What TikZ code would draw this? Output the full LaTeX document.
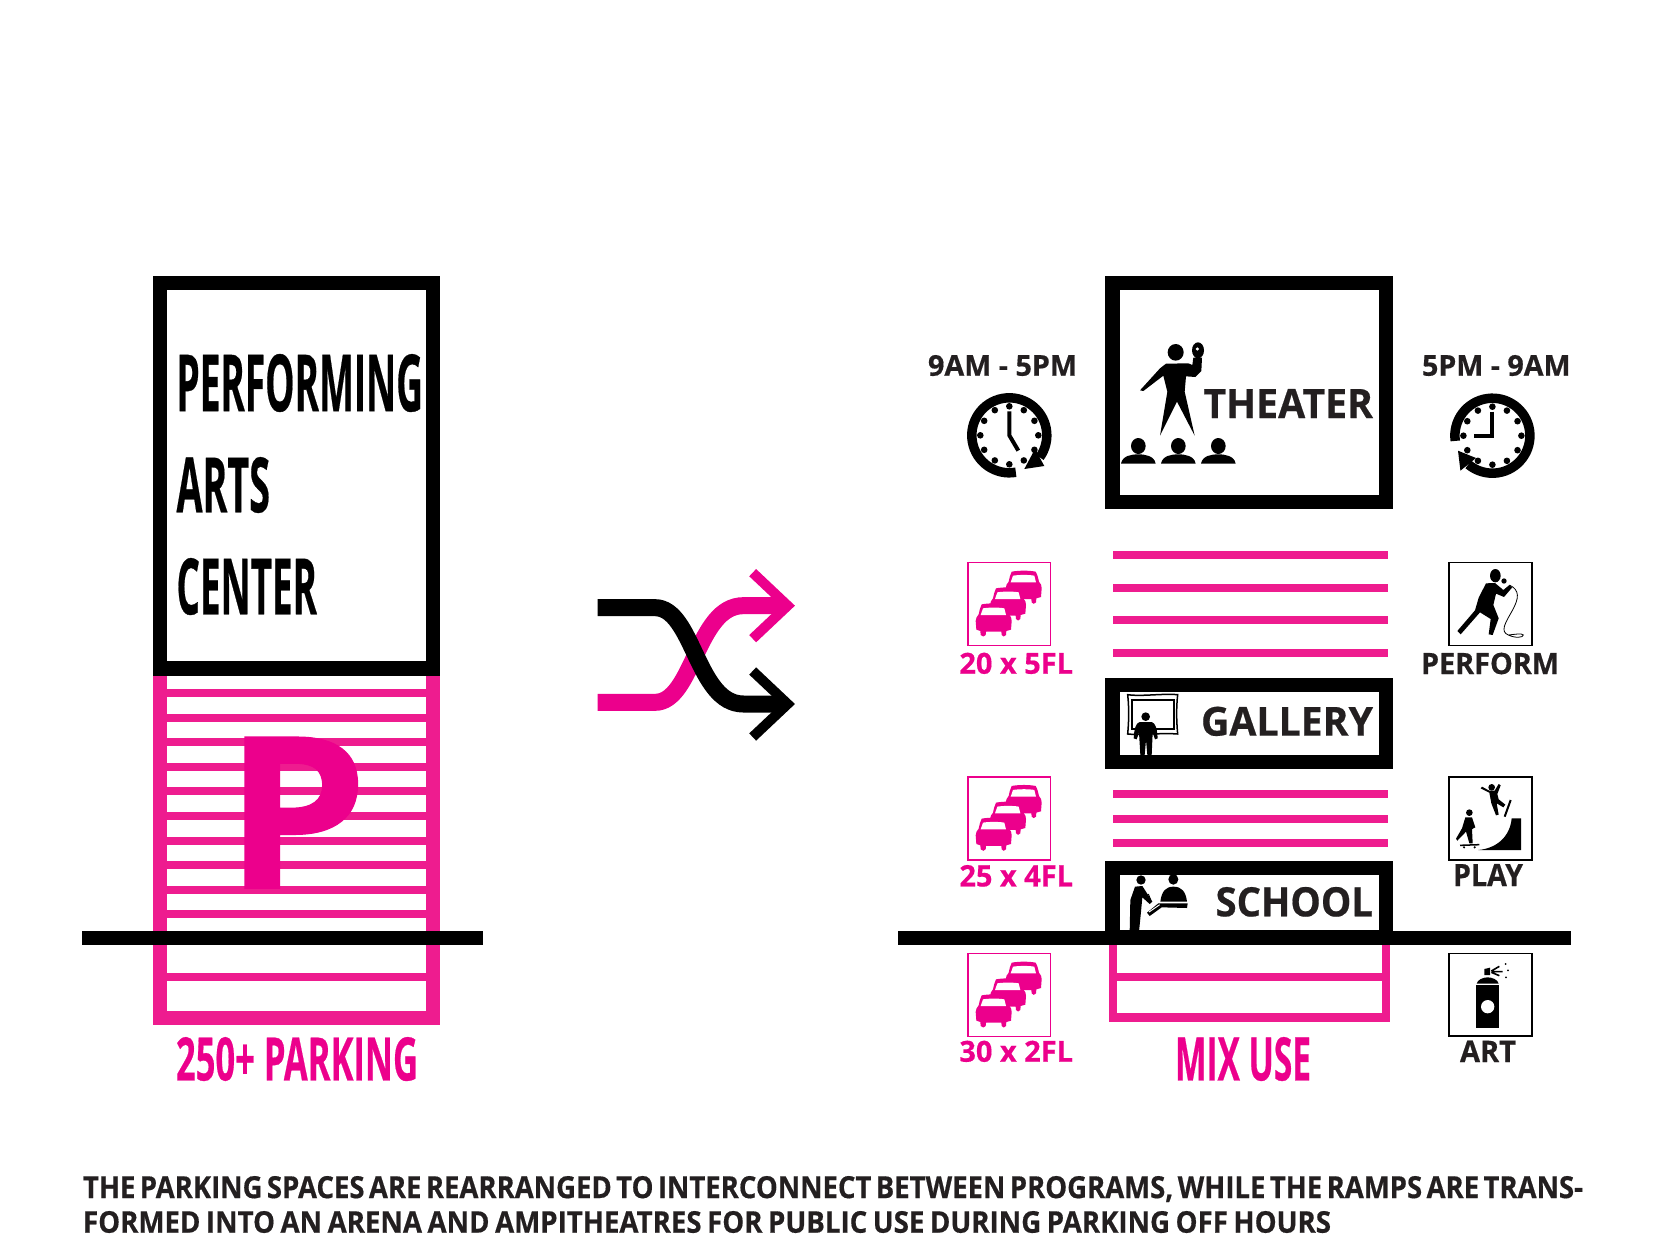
\documentclass[tikz,border=0pt]{standalone}
\usepackage{graphicx}
\usepackage{fontspec}
\setmainfont{Open Sans}[BoldFeatures={FakeBold=0.5}]
\definecolor{mag}{HTML}{EC008C}
\definecolor{magl}{HTML}{EE1C8F}
\definecolor{ink}{HTML}{231F20}
\tikzset{
  lbl/.style={inner sep=0pt,outer sep=0pt,anchor=north west},
  icoline/.style={line width=1.5pt},
  handline/.style={line width=4pt,line join=miter},
}
\newcommand{\lab}[7]{\node[lbl,text=#2] (#1) at (#3,#4) {\resizebox*{#5pt}{#6pt}{\bfseries #7}};}
\newcommand{\carshape}[2]{%
  \begin{scope}[shift={(#1,#2)}]
  \fill[mag] (18,0) .. controls (40,-4) and (70,-4) .. (90,0) .. controls (96,10) and (98,22) .. (100,30)
    .. controls (106,36) and (108,42) .. (108,50) -- (106,76) -- (92,80) -- (91,92) .. controls (88,98) and (80,98) .. (78,92) -- (77,82)
    -- (31,82) -- (30,92) .. controls (28,98) and (18,98) .. (15,92) -- (14,80) -- (2,76) -- (0,50)
    .. controls (0,42) and (4,36) .. (9,30) .. controls (11,20) and (13,10) .. (18,0) -- cycle;
  \fill[white] (22,12) .. controls (40,9) and (70,9) .. (86,12) -- (91,32) -- (15,32) -- cycle;
  \end{scope}}
\newcommand{\caricon}[1]{%
  \draw[mag,icoline] (967.9,#1) rectangle (1050.5,#1+82.8);
  \begin{scope}[shift={(960,#1-7.7)},scale=1/3]
  \carshape{137}{50}\carshape{90}{100}\carshape{47}{148}
  \end{scope}}
\newcommand{\clockface}[2]{%
  \foreach \a in {0,30,...,330} \fill (\a:29) circle (3.3);
  \draw[handline] (0,24) -- (0,0) -- (#1,#2);}
\begin{document}
\begin{tikzpicture}[x=1pt,y=-1pt]
\useasboundingbox (0,0) rectangle (1667,1250);
\fill[white] (0,0) rectangle (1667,1250);

% ---------- left tower
\fill[magl] (153,676) rectangle (167,1025);
\fill[magl] (426,676) rectangle (440,1025);
\fill[magl] (153,1011) rectangle (440,1025);
\foreach \yy in {693,717.7,742.3,766.7,791.3,816,840.7,865,889.7,914.3,976.7}
  \fill[magl] (167,\yy-4) rectangle (426,\yy+4);
\lab{pbig}{mag}{224.5}{737}{143}{151}{P}
\fill[black] (153,276) rectangle (440,676);
\fill[white] (167,290) rectangle (426,661);
\lab{perf}{black}{176.5}{354}{246.5}{58}{PERFORMING}
\lab{arts}{black}{176.5}{457}{93.5}{56}{ARTS}
\lab{cent}{black}{176.5}{558}{140.5}{57}{CENTER}
\fill[black] (82,931) rectangle (483,945);
\lab{park}{mag}{176}{1037}{242}{44}{250+ PARKING}

% ---------- shuffle arrows
\begin{scope}[shift={(560,540)},scale=1/3]
  \draw[mag,line width=17pt] (113,487) -- (285,487) .. controls (400,487) and (410,197) .. (550,197) -- (670,197);
  \draw[mag,line width=10pt,miter limit=10] (578,98) -- (683,197) -- (578,296);
  \draw[black,line width=17pt] (113,203) -- (285,203) .. controls (400,203) and (410,492) .. (550,492) -- (670,492);
  \draw[black,line width=10pt,miter limit=10] (578,393) -- (683,492) -- (578,591);
\end{scope}

% ---------- right tower: theater
\fill[black] (1105.4,276) rectangle (1393,509);
\fill[white] (1120,290) rectangle (1379,495);
\begin{scope}[shift={(1110,335)},scale=1/3]
  \fill (197,52) ellipse (24 and 25);
  \fill (90,166) -- (150,100) -- (168,86) -- (235,85) -- (247,90) -- (250,68) -- (276,68) -- (274,108) -- (256,126) -- (228,124)
    -- (224,170) -- (254,302) -- (201,200) -- (150,302) -- (172,170) -- (160,122) -- (100,168) -- cycle;
  \fill (264,46) ellipse (18 and 24);
  \fill[white] (262,42) circle (5);
  \foreach \hx in {85,205,325} {
    \fill (\hx,333) ellipse (22 and 24);
    \fill (\hx-52,386) .. controls (\hx-48,362) and (\hx-20,358) .. (\hx,358) .. controls (\hx+20,358) and (\hx+48,362) .. (\hx+52,386) -- cycle;
  }
\end{scope}
\lab{thea}{ink}{1203.5}{389}{169.5}{29}{THEATER}

% ---------- clocks
\begin{scope}[shift={(1009.3,435.3)},yscale=-1]
  \clockface{9}{-15.3}
  \draw[line width=9.5pt] (-80:37.5) arc[start angle=-80,end angle=-396,radius=37.5];
  \fill (25.7,-13.7) -- (35,-30.7) -- (15,-33.7) -- cycle;
\end{scope}
\begin{scope}[shift={(1492.4,435.7)},yscale=-1]
  \clockface{-18}{0}
  \draw[line width=9.5pt] (188:37.5) arc[start angle=188,end angle=-130,radius=37.5];
  \fill (-34.4,-15) -- (-32,-35) -- (-16.4,-22.3) -- cycle;
\end{scope}
\lab{tl}{ink}{928}{355}{149}{21}{9AM - 5PM}
\lab{tr}{ink}{1422}{355}{148.5}{21}{5PM - 9AM}

% ---------- pink floors
\foreach \yy in {554.7,587.7,620,652.7,794,818.7,843.3}
  \fill[magl] (1113,\yy-4) rectangle (1387.5,\yy+4);

% ---------- gallery
\fill[black] (1105.4,677.7) rectangle (1393,769);
\fill[white] (1120,691.7) rectangle (1379,755);
\begin{scope}[shift={(1115,690)},scale=1/3]
  \draw[line width=1.5pt] (38,14) .. controls (80,20) and (140,10) .. (188,14) .. controls (184,50) and (184,90) .. (188,132)
    .. controls (140,128) and (80,136) .. (38,132) .. controls (42,90) and (42,50) .. (38,14) -- cycle;
  \draw[line width=2pt] (51,30) rectangle (176,118);
  \fill (92,80) circle (13);
  \fill (74,96) -- (110,96) .. controls (122,100) and (126,115) .. (128,145) -- (120,148) -- (113,128) -- (110,195) -- (97,195) -- (93,150) -- (89,195) -- (76,195) -- (72,128) -- (65,148) -- (56,145) .. controls (58,115) and (62,100) .. (74,96) -- cycle;
\end{scope}
\lab{gall}{ink}{1201}{706.7}{172}{29.3}{GALLERY}

% ---------- school
\fill[black] (1105.4,861) rectangle (1393,945);
\fill[white] (1120,875) rectangle (1379,930);
\begin{scope}[shift={(1115,870)},scale=1/3]
  \fill (78,30) circle (14);
  \fill (60,50) -- (82,48) -- (112,95) -- (104,102) -- (82,82) -- (78,125) -- (72,185) -- (44,185) -- (46,90) -- cycle;
  \draw[line width=1pt] (100,72) -- (108,92);
  \fill (175,28) ellipse (15 and 16);
  \fill (136,95) .. controls (140,64) and (152,50) .. (175,50) .. controls (200,50) and (212,64) .. (216,95) -- cycle;
  \fill (130,100) -- (218,100) -- (216,114) -- (140,112) -- (104,138) -- (96,128) -- cycle;
  \draw[white,line width=1pt] (102,126) -- (134,104);
\end{scope}
\lab{scho}{ink}{1215.5}{887}{157.5}{29.7}{SCHOOL}

% ---------- lower right part
\fill[magl] (1108.5,945) rectangle (1117,1021.7);
\fill[magl] (1382,945) rectangle (1390,1021.7);
\fill[magl] (1108.5,1013) rectangle (1390,1021.7);
\fill[magl] (1117,972.7) rectangle (1382,980.7);
\fill[black] (898,931) rectangle (1570.5,945);
\lab{mix}{mag}{1175}{1037}{136}{44}{MIX USE}

% ---------- parking icons
\caricon{562.7}
\caricon{777}
\caricon{953.7}
\lab{p1}{mag}{959.4}{652.7}{113.6}{21.3}{20 x 5FL}
\lab{p2}{mag}{959.4}{865}{113.6}{21.7}{25 x 4FL}
\lab{p3}{mag}{959.4}{1040.7}{113.6}{21.3}{30 x 2FL}

% ---------- perform icon
\draw[black,icoline] (1449,562.7) rectangle (1532,645.5);
\begin{scope}[shift={(1440,555)},scale=1/3]
  \fill (166,62) ellipse (16 and 20);
  \fill (138,85) -- (165,84) -- (190,105) -- (208,90) -- (216,98) -- (192,126) -- (168,116) -- (160,150) -- (176,190) -- (158,240) -- (146,238) -- (152,192) -- (120,172) -- (62,238) -- (52,228) -- (105,166) -- (116,128) -- cycle;
  \fill (192,78) circle (8);
  \draw[line width=.8pt] (208,90) .. controls (240,105) and (238,130) .. (215,170) .. controls (195,205) and (180,230) .. (205,240) .. controls (225,250) and (250,248) .. (250,240) .. controls (245,234) and (225,238) .. (205,240);
\end{scope}
\lab{pf}{ink}{1421}{652.7}{138}{21.6}{PERFORM}

% ---------- play icon
\draw[black,icoline] (1449,777) rectangle (1532,860);
\begin{scope}[shift={(1440,770)},scale=1/3]
  \fill (215,145) -- (243,145) -- (243,240) -- (115,240) .. controls (170,235) and (210,200) .. (215,145) -- cycle;
  \fill (88,128) circle (10);
  \fill (76,142) -- (96,142) -- (106,172) -- (100,175) -- (96,178) -- (98,220) -- (88,220) -- (78,185) -- (52,212) -- (48,206) -- (66,175) -- cycle;
  \draw[line width=1.5pt] (60,226) -- (118,224);
  \fill (72,232) circle (3.5) (104,232) circle (3.5);
  \fill (155,52) circle (10);
  \fill (122,55) -- (126,50) -- (148,62) -- (164,62) -- (176,42) -- (182,46) -- (172,72) -- (176,88) -- (196,104) -- (190,112) -- (170,100) -- (176,134) -- (168,136) -- (154,100) -- (148,68) -- cycle;
  \draw[line width=2pt] (212,90) -- (194,140);
\end{scope}
\lab{pl}{ink}{1453}{864}{70}{22}{PLAY}

% ---------- art icon
\draw[black,icoline] (1449,953.7) rectangle (1532,1036);
\begin{scope}[shift={(1440,945)},scale=1/3]
  \fill (108,120) rectangle (178,248);
  \fill (110,116) .. controls (112,104) and (130,97) .. (143,97) .. controls (156,97) and (174,104) .. (176,116) -- cycle;
  \fill (133,72) -- (150,68) -- (150,90) -- (133,90) -- cycle;
  \fill[white] (143,185) circle (20);
  \draw[line width=1.6pt] (154,78) -- (178,64) (154,80) -- (188,80) (154,82) -- (178,92);
  \fill (197,57) circle (3) (204,76) circle (3) (198,97) circle (3);
\end{scope}
\lab{ar}{ink}{1460}{1040.7}{56}{21.3}{ART}

% ---------- caption
\lab{c1}{ink}{83}{1176}{1500}{26}{\spaceskip=.16em THE PARKING SPACES ARE REARRANGED TO INTERCONNECT BETWEEN PROGRAMS, WHILE THE RAMPS ARE TRANS-}
\lab{c2}{ink}{83}{1211}{1248}{22}{\spaceskip=.2em FORMED INTO AN ARENA AND AMPITHEATRES FOR PUBLIC USE DURING PARKING OFF HOURS}
\end{tikzpicture}
\end{document}
